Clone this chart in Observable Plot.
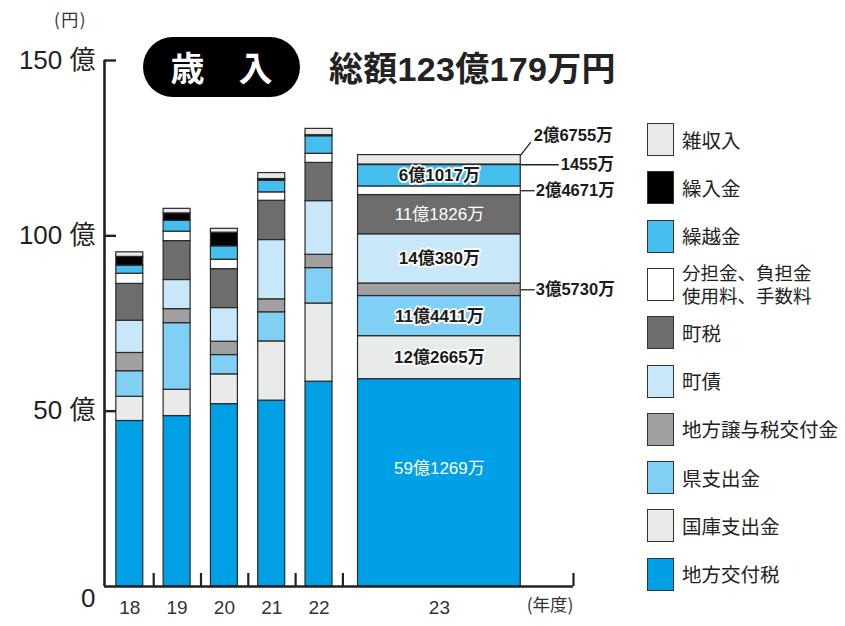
<!DOCTYPE html>
<html><head><meta charset="utf-8">
<script src="https://cdn.jsdelivr.net/npm/d3@7"></script>
<script src="https://cdn.jsdelivr.net/npm/@observablehq/plot@0.6"></script>
<style>
body{margin:0;background:#fff;}
#wrap{position:relative;width:845px;height:626px;font-family:"Liberation Sans","Noto Sans CJK JP",sans-serif;color:#222;}
#chart{position:absolute;left:0;top:0;}
.ov{position:absolute;white-space:nowrap;}
#pill{left:143px;top:37px;width:157px;height:60px;border-radius:30px;background:#000;color:#fff;font-weight:bold;font-size:34px;line-height:60px;text-align:center;font-family:"Noto Sans CJK JP",sans-serif;}
#total{left:329px;top:46px;font-size:34px;font-weight:bold;line-height:46px;font-family:"Liberation Sans","Noto Sans CJK JP",sans-serif;letter-spacing:0.3px;}
#unit{left:54px;top:6px;font-size:17px;letter-spacing:1.5px;font-family:"Noto Sans CJK JP",sans-serif;color:#333;}
.lg{position:absolute;left:647px;height:33px;display:flex;align-items:center;}
.sw{width:25px;height:31px;border:1.3px solid #333;box-sizing:content-box;flex:none;}
.lt{margin-left:8px;font-size:19.5px;line-height:22px;font-family:"Noto Sans CJK JP",sans-serif;color:#222;}
.lt2 span{display:block;font-size:18.5px;line-height:23.5px;}
</style></head>
<body><div id="wrap"><div id="chart"></div>
<div class="ov" id="unit"></div><div class="ov" id="pill"></div><div class="ov" id="total"></div>
</div>
<script>
// ---- data (億円) ----
const years = ["18", "19", "20", "21", "22", "23"];
const categories = ["地方交付税", "国庫支出金", "県支出金", "地方譲与税交付金", "町債", "町税", "分担金、負担金、使用料、手数料", "繰越金", "繰入金", "雑収入"];
const legendLabels = [["地方交付税"], ["国庫支出金"], ["県支出金"], ["地方譲与税交付金"], ["町債"], ["町税"], ["分担金、負担金", "使用料、手数料"], ["繰越金"], ["繰入金"], ["雑収入"]];
const colors = ["#00a0e6", "#e9ebeb", "#80cff4", "#a0a0a0", "#c8e8fa", "#6d6d6d", "#ffffff", "#45bff0", "#000000", "#e9e9e9"];
const v18 = [47.2, 6.9, 7.3, 5.2, 9.2, 10.5, 2.9, 2.3, 2.5, 1.3];
const v19 = [48.6, 7.5, 19.0, 4.0, 8.3, 11.1, 2.7, 3.1, 2.1, 1.3];
const v20 = [52.0, 8.5, 5.5, 3.8, 9.6, 11.1, 2.7, 3.8, 3.9, 1.1];
const v21 = [53.0, 16.9, 8.3, 3.7, 16.9, 11.2, 2.4, 3.3, 0.5, 1.7];
const v22 = [58.4, 22.3, 10.1, 3.8, 15.3, 10.9, 2.6, 5.0, 0.3, 1.8];
const v23 = [59.1269, 12.2665, 11.4411, 3.5730, 14.0380, 11.1826, 2.4671, 6.1017, 0.1455, 2.6755];
const labels23 = ["59億1269万", "12億2665万", "11億4411万", "3億5730万", "14億380万", "11億1826万", "2億4671万", "6億1017万", "1455万", "2億6755万"];
const yTicks = [50, 100, 150];
const unitLabel = "(円)";
const yearUnit = "(年度)";
const titleText = "歳　入";
const totalText = "総額123億179万円";

// ---- layout (slot units along x) ----
const series = [v18, v19, v20, v21, v22, v23];
const xMax = 9.915;
const barX1 = years.map((y, i) => i + (i < 5 ? 0.25 : 0.36));
const barX2 = years.map((y, i) => i + (i < 5 ? 0.82 : 3.80));
const slotEdges = [1.04, 2.04, 3.04, 4.04, 5.04, xMax];
const pxX = xMax / 469, pxY = 150 / 526;

const rows = [];
series.forEach((vals, i) => {
  let acc = 0;
  vals.forEach((v, k) => {
    rows.push({year: years[i], cat: categories[k], k, x1: barX1[i], x2: barX2[i], y1: acc, y2: acc + v});
    acc += v;
  });
});
const last = rows.filter(r => r.year === "23");
const style23 = ["whiteLow", "dark", "dark", "out", "dark", "white", "out", "dark", "outLong", "outDiag"];
const lab = last.map((r, k) => ({...r, label: labels23[k], st: style23[k], mid: (r.y1 + r.y2) / 2, cx: (r.x1 + r.x2) / 2}));
const total23 = d3.sum(v23);

const leaders = lab.filter(d => d.st.startsWith("out")).map(d => {
  if (d.st === "out") return {x1: d.x2, y1: d.mid, x2: d.x2 + 14 * pxX, y2: d.mid, tx: d.x2 + 15 * pxX, ty: d.mid, label: d.label};
  if (d.st === "outLong") return {x1: d.x2, y1: d.mid, x2: d.x2 + 38 * pxX, y2: d.mid, tx: d.x2 + 40 * pxX, ty: d.mid, label: d.label};
  return {x1: d.x2, y1: total23, x2: d.x2 + 10 * pxX, y2: total23 + 13 * pxY, tx: d.x2 + 13 * pxX, ty: total23 + 19 * pxY, label: d.label};
});

const font = '"Liberation Sans","Noto Sans CJK JP",sans-serif';
const chart = Plot.plot({
  width: 845, height: 626,
  marginLeft: 104, marginRight: 272, marginTop: 60, marginBottom: 40,
  style: {fontFamily: font, color: "#222", background: "#fff"},
  x: {domain: [0, xMax], label: null},
  y: {domain: [0, 150], label: null},
  color: {domain: categories, range: colors},
  marks: [
    Plot.rect(rows, {x1: "x1", x2: "x2", y1: "y1", y2: "y2", fill: "cat", stroke: "#2a2a2a", strokeWidth: 1.2}),
    Plot.ruleY([0], {stroke: "#222", strokeWidth: 2.6}),
    Plot.ruleX([0], {stroke: "#222", strokeWidth: 2.6}),
    Plot.axisY(yTicks, {tickSize: -12, tickPadding: 21, strokeWidth: 2.4, fontSize: 26, tickFormat: d => `${d} 億`, fill: "#222"}),
    Plot.axisY([0], {tickSize: 0, tickPadding: 9, fontSize: 26, dy: 12, tickFormat: d => "0", fill: "#222"}),
    Plot.axisX(slotEdges, {tickSize: -13, strokeWidth: 2.2, tickFormat: () => ""}),
    Plot.axisX(barX1.map((x, i) => (x + barX2[i]) / 2), {tickSize: 0, tickPadding: 14, fontSize: 19, tickFormat: (d, i) => years[i], fill: "#333"}),
    Plot.text([yearUnit], {frameAnchor: "bottom-right", dy: 24, textAnchor: "end", fontSize: 17.5, fill: "#333", fontFamily: '"Noto Sans CJK JP",sans-serif'}),
    Plot.text(lab.filter(d => d.st === "dark"), {x: "cx", y: "mid", text: "label", fontSize: 17, fontWeight: "bold", fill: "#1a1a1a", stroke: "white", strokeWidth: 3.5}),
    Plot.text(lab.filter(d => d.st === "white"), {x: "cx", y: "mid", text: "label", fontSize: 17, fill: "white"}),
    Plot.text(lab.filter(d => d.st === "whiteLow"), {x: "cx", y: "mid", text: "label", fontSize: 17, fill: "white", dy: -14}),
    Plot.link(leaders, {x1: "x1", y1: "y1", x2: "x2", y2: "y2", stroke: "#222", strokeWidth: 1.3}),
    Plot.text(leaders, {x: "tx", y: "ty", text: "label", textAnchor: "start", fontSize: 16.5, fontWeight: "bold", fill: "#1a1a1a", stroke: "white", strokeWidth: 3})
  ]
});
document.getElementById("chart").appendChild(chart);

document.getElementById("unit").textContent = unitLabel;
document.getElementById("pill").textContent = titleText;
document.getElementById("total").textContent = totalText;

// legend (top to bottom = reverse stacking order)
const wrap = document.getElementById("wrap");
categories.map((c, k) => k).reverse().forEach((k, j) => {
  const item = document.createElement("div");
  item.className = "lg";
  item.style.top = (123 + j * 48.3) + "px";
  const lines = legendLabels[k];
  const text = lines.length > 1 ? lines.map(s => `<span>${s}</span>`).join("") : lines[0];
  item.innerHTML = `<div class="sw" style="background:${colors[k]}"></div><div class="lt${lines.length > 1 ? " lt2" : ""}">${text}</div>`;
  wrap.appendChild(item);
});
</script></body></html>
